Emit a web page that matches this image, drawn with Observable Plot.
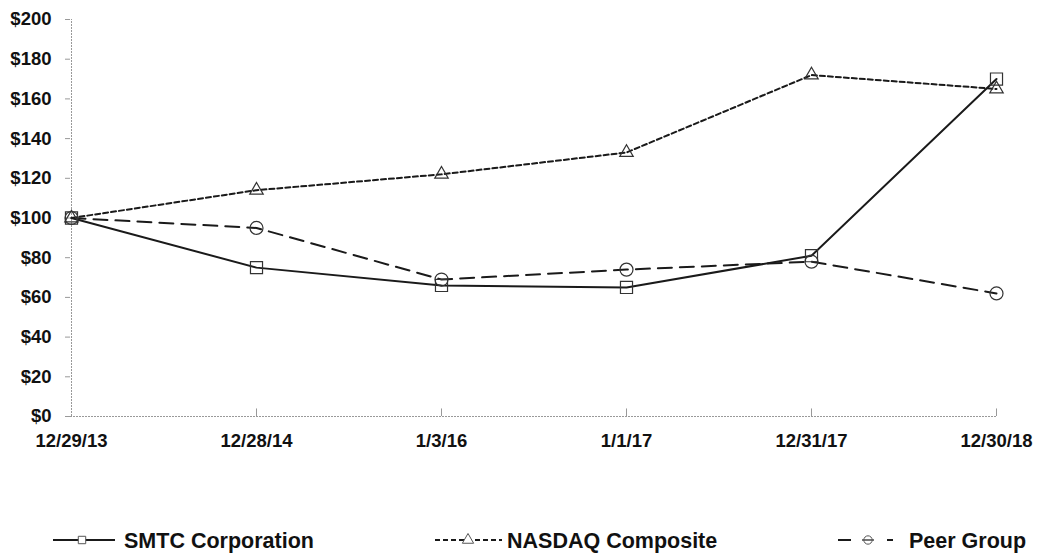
<!DOCTYPE html>
<html><head>
<meta charset="utf-8">
<script src="https://cdn.jsdelivr.net/npm/d3@7"></script>
<script src="https://cdn.jsdelivr.net/npm/@observablehq/plot@0.6"></script>
<style>
body{margin:0;background:#fff;font-family:"Liberation Sans",Arial,sans-serif;}
#wrap{position:relative;width:1037px;height:553px;overflow:hidden;}
#chart{position:absolute;left:0;top:0;}
#legend{position:absolute;left:0;top:522px;}
</style></head><body>
<div id="wrap"><div id="chart"></div><div id="legend"></div></div>
<script>
const dates = ["12/29/13","12/28/14","1/3/16","1/1/17","12/31/17","12/30/18"];
const smtc = [100, 75, 66, 65, 81, 170];
const nasdaq = [100, 114, 122, 133, 172, 165];
const peer = [100, 95, 69, 74, 78, 62];
const seriesNames = ["SMTC Corporation", "NASDAQ Composite", "Peer Group"];
const yTicks = [0, 20, 40, 60, 80, 100, 120, 140, 160, 180, 200];

const seriesVals = [smtc, nasdaq, peer];
const styles = [
  {dash: null, symbol: "square", r: 6.8, d3sym: d3.symbolSquare},
  {dash: "5,3", symbol: "triangle", r: 5, d3sym: d3.symbolTriangle},
  {dash: "14,8", symbol: "circle", r: 6.5, d3sym: d3.symbolCircle}
];
const rows = seriesNames.map((s, i) => dates.map((d, j) => ({series: s, date: d, value: seriesVals[i][j]})));

const marks = [
  Plot.ruleY([0], {stroke: "#999", strokeDasharray: "2,1"}),
  Plot.ruleX([dates[0]], {stroke: "#999", strokeDasharray: "2,1", y1: 0, y2: 200}),
  Plot.ruleX(dates.slice(1), {x: d => d, y1: 0, y2: 3.8, stroke: "#999"}),
  Plot.axisY({ticks: yTicks, tickSize: 5, tickPadding: 14, tickFormat: d => "$" + d, stroke: "#999", fontSize: 18.5, fontWeight: "bold", fill: "#111"}),
  Plot.axisX({tickSize: 0, tickPadding: 17, fontSize: 18.5, fontWeight: "bold", fill: "#111"})
];
rows.forEach((data, i) => {
  marks.push(Plot.line(data, {x: "date", y: "value", stroke: "#1a1a1a", strokeWidth: 2, strokeDasharray: styles[i].dash}));
});
rows.forEach((data, i) => {
  marks.push(Plot.dot(data, {x: "date", y: "value", symbol: () => styles[i].symbol, r: styles[i].r, stroke: "#333", strokeWidth: 1.2, fill: "none"}));
});

const chart = Plot.plot({
  width: 1037,
  height: 460,
  marginLeft: 70,
  marginRight: 40,
  marginTop: 19,
  marginBottom: 44,
  style: {fontFamily: "Liberation Sans, Arial, sans-serif", background: "#fff", color: "#111"},
  x: {type: "point", domain: dates, padding: 0, label: null},
  y: {domain: [0, 200], label: null},
  marks
});
document.getElementById("chart").appendChild(chart);

// legend
const legendItems = [
  {x1: 53, x2: 115, sx: 82, tx: 124},
  {x1: 435, x2: 502, sx: 468, tx: 507},
  {x1: 838, x2: 893, sx: 868, tx: 909}
];
const lg = d3.create("svg").attr("width", 1037).attr("height", 31);
const cy = 18;
seriesNames.forEach((name, i) => {
  const it = legendItems[i];
  if (i === 2) {
    lg.append("line").attr("x1", it.x1).attr("x2", it.x1 + 13).attr("y1", cy).attr("y2", cy).attr("stroke", "#1a1a1a").attr("stroke-width", 2);
    lg.append("line").attr("x1", it.x2 - 6).attr("x2", it.x2).attr("y1", cy).attr("y2", cy).attr("stroke", "#1a1a1a").attr("stroke-width", 2);
    lg.append("line").attr("x1", it.sx - 6).attr("x2", it.sx + 6).attr("y1", cy).attr("y2", cy).attr("stroke", "#1a1a1a").attr("stroke-width", 1.2);
  } else {
    lg.append("line").attr("x1", it.x1).attr("x2", it.x2).attr("y1", cy).attr("y2", cy)
      .attr("stroke", "#1a1a1a").attr("stroke-width", 2).attr("stroke-dasharray", styles[i].dash);
  }
  lg.append("path").attr("d", d3.symbol(styles[i].d3sym, 55)()).attr("transform", `translate(${it.sx},${cy})`)
    .attr("fill", "#fff").attr("fill-opacity", i === 2 ? 0 : 1).attr("stroke", "#555").attr("stroke-width", 1);
  lg.append("text").attr("x", it.tx).attr("y", cy).attr("dy", "0.36em")
    .attr("font-family", "Liberation Sans, Arial, sans-serif").attr("font-weight", "bold").attr("font-size", 21.5)
    .attr("fill", "#111").text(name);
});
document.getElementById("legend").appendChild(lg.node());
</script>
</body></html>
